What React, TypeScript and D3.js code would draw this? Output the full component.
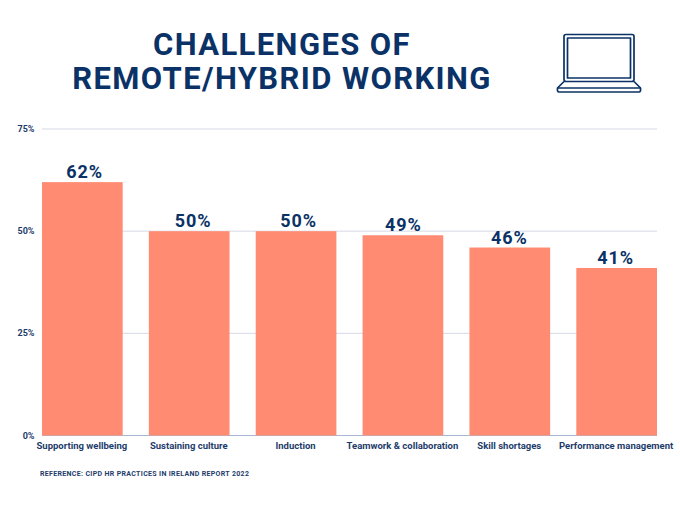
import { useRef, useEffect } from 'react';
import * as d3 from 'd3';

const categories = [
  'Supporting wellbeing',
  'Sustaining culture',
  'Induction',
  'Teamwork & collaboration',
  'Skill shortages',
  'Performance management',
];
const values = [62, 50, 50, 49, 46, 41];
const yTicks = [0, 25, 50, 75];
const titleLines = ['CHALLENGES OF', 'REMOTE/HYBRID WORKING'];
const reference = 'REFERENCE: CIPD HR PRACTICES IN IRELAND REPORT 2022';

const width = 680;
const height = 510;
const navy = '#0b3266';
const labelNavy = '#1d3c6b';
const coral = '#ff8b73';

// the value labels are not quite centred over their bars in the original
const valueLabelNudge = [2.2, 4, 2.5, 0.5, -0.5, -1];

function App() {
  const ref = useRef<SVGSVGElement | null>(null);

  useEffect(() => {
    const svg = d3.select(ref.current);
    svg.selectAll('*').remove();

    const x = d3.scaleBand<string>().domain(categories).range([42, 657]).paddingInner(0.245);
    const y = d3.scaleLinear().domain([0, 75]).range([435.5, 129]);

    svg.append('rect').attr('width', width).attr('height', height).attr('fill', '#ffffff');

    // Title
    svg
      .selectAll('text.title')
      .data(titleLines)
      .join('text')
      .attr('class', 'title')
      .attr('x', 282)
      .attr('y', (_, i) => 55 + i * 34)
      .attr('text-anchor', 'middle')
      .attr('font-family', 'Roboto')
      .attr('font-weight', 700)
      .attr('font-size', 31)
      .attr('letter-spacing', 1.4)
      .attr('fill', navy)
      .text(d => d);

    // Gridlines and y labels
    svg
      .selectAll('line.grid')
      .data(yTicks)
      .join('line')
      .attr('class', 'grid')
      .attr('x1', 42)
      .attr('x2', 657)
      .attr('y1', d => y(d))
      .attr('y2', d => y(d))
      .attr('stroke', d => (d === 0 ? '#a9b8d3' : '#d5d9e5'))
      .attr('stroke-width', 1);

    svg
      .selectAll('text.ytick')
      .data(yTicks)
      .join('text')
      .attr('class', 'ytick')
      .attr('x', 34.5)
      .attr('y', d => y(d) + 3)
      .attr('text-anchor', 'end')
      .attr('font-family', 'Roboto')
      .attr('font-weight', 700)
      .attr('font-size', 9)
      .attr('fill', labelNavy)
      .text(d => `${d}%`);

    // Bars
    svg
      .selectAll('rect.bar')
      .data(categories)
      .join('rect')
      .attr('class', 'bar')
      .attr('x', d => x(d)!)
      .attr('width', x.bandwidth())
      .attr('y', (_, i) => y(values[i]))
      .attr('height', (_, i) => y(0) - y(values[i]))
      .attr('fill', coral);

    // Value labels
    svg
      .selectAll('text.value')
      .data(categories)
      .join('text')
      .attr('class', 'value')
      .attr('x', (d, i) => x(d)! + x.bandwidth() / 2 + valueLabelNudge[i])
      .attr('y', (_, i) => y(values[i]) - 3.8)
      .attr('text-anchor', 'middle')
      .attr('font-family', 'Roboto')
      .attr('font-weight', 700)
      .attr('font-size', 18)
      .attr('letter-spacing', 0.9)
      .attr('fill', navy)
      .text((_, i) => `${values[i]}%`);

    // Category labels
    svg
      .selectAll('text.cat')
      .data(categories)
      .join('text')
      .attr('class', 'cat')
      .attr('x', d => x(d)! + x.bandwidth() / 2 - 0.5)
      .attr('y', 449)
      .attr('text-anchor', 'middle')
      .attr('font-family', 'Roboto')
      .attr('font-weight', 700)
      .attr('font-size', 9.5)
      .attr('fill', labelNavy)
      .text(d => d);

    svg
      .append('text')
      .attr('x', 40)
      .attr('y', 476)
      .attr('font-family', 'Roboto')
      .attr('font-weight', 700)
      .attr('font-size', 7)
      .attr('letter-spacing', 0.33)
      .attr('fill', labelNavy)
      .text(reference);

    // Laptop icon
    const icon = svg
      .append('g')
      .attr('fill', 'none')
      .attr('stroke', navy)
      .attr('stroke-width', 1.7)
      .attr('stroke-linejoin', 'round');
    icon.append('rect').attr('x', 564).attr('y', 34.5).attr('width', 70).attr('height', 47).attr('rx', 2);
    icon.append('rect').attr('x', 567.5).attr('y', 38).attr('width', 63).attr('height', 40);
    icon.append('path').attr('d', 'M564 81.5 L557.5 88 Q557 92 559 92 L639 92 Q641 92 640.5 88 L634 81.5');
    icon.append('path').attr('d', 'M557.5 88 L640.5 88');
  }, []);

  return <svg ref={ref} width={width} height={height} style={{ position: 'absolute', left: 0, top: 0 }}></svg>;
}

export default App;
